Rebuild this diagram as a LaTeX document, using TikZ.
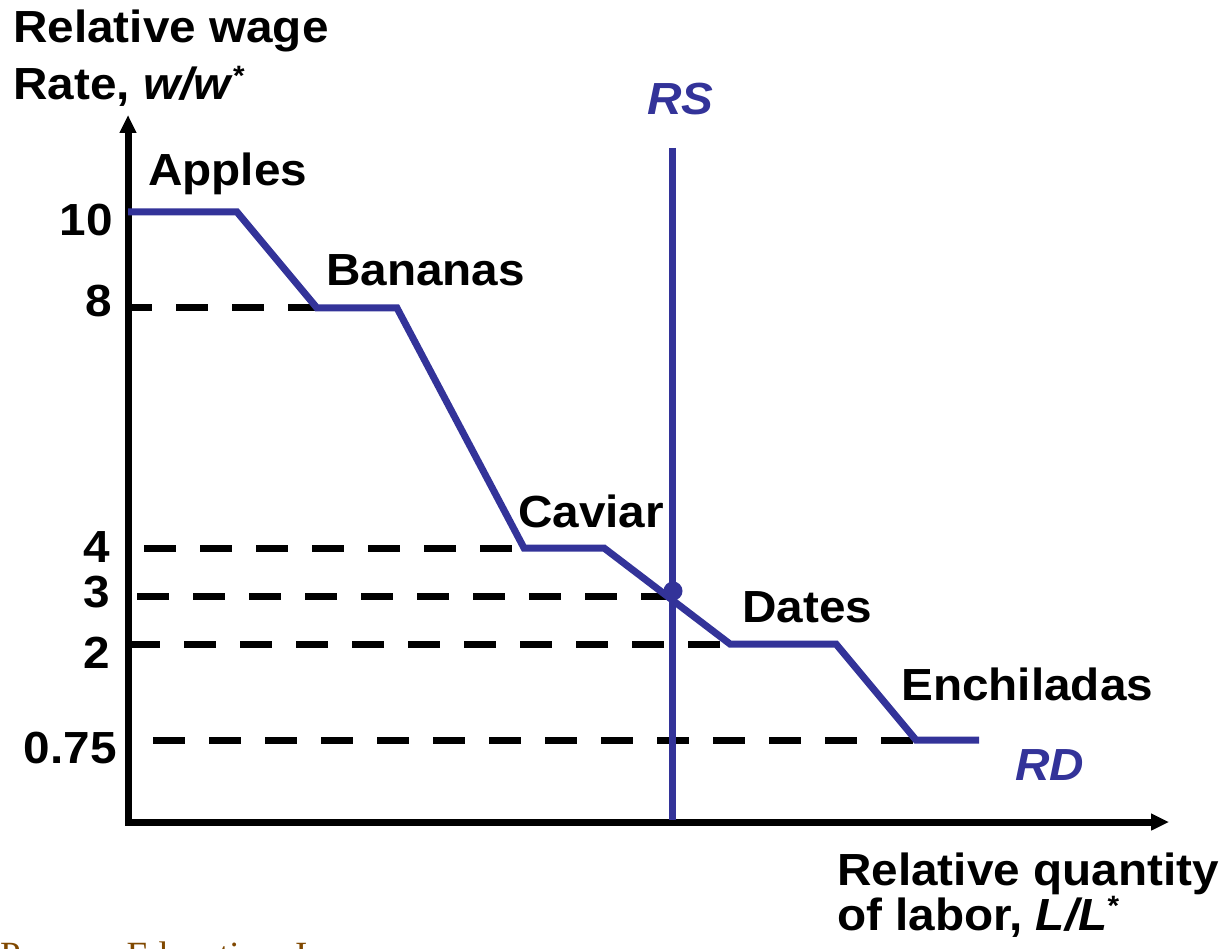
\documentclass[tikz,border=0pt]{standalone}
\usepackage{fontspec}
\usepackage{graphicx}
\setmainfont{Liberation Sans}
\newfontfamily\pearsonfont{Liberation Serif}
\usetikzlibrary{arrows.meta}
\definecolor{rdblue}{RGB}{51,51,153}
\definecolor{pbrown}{RGB}{128,72,0}
\newcommand{\hs}[1]{\scalebox{1.06}[1]{#1}}
\begin{document}
\begin{tikzpicture}[x=1pt,y=-1pt,
  lbl/.style={inner sep=0pt, anchor=base west, font=\fontsize{45}{52}\selectfont\bfseries},
  bluelbl/.style={lbl, text=rdblue, font=\fontsize{45}{52}\selectfont\bfseries\itshape},
  num/.style={inner sep=0pt, anchor=east, font=\fontsize{45}{52}\selectfont\bfseries},
  curve/.style={rdblue, line width=7pt, line join=miter},
  guide/.style={line width=7pt, dash pattern=on 32pt off 24pt},
  axisline/.style={line width=7pt, -{Triangle[length=18pt,width=16pt]}}]
\useasboundingbox (0,0) rectangle (1223,949);
\clip (0,0) rectangle (1223,949);

% axes
\coordinate (origin) at (125,822);
\coordinate (ytip) at (128,115);
\coordinate (xtip) at (1169,822);
\coordinate (ybase) at (128,825);
\draw[axisline] (ybase) -- (ytip);
\draw[axisline] (origin) -- (xtip);

% RD curve corners
\coordinate (a0) at (128,212);
\coordinate (a1) at (237,212);
\coordinate (b0) at (317,308);
\coordinate (b1) at (397,308);
\coordinate (c0) at (524,548);
\coordinate (c1) at (604,548);
\coordinate (d0) at (730,644);
\coordinate (d1) at (836,644);
\coordinate (e0) at (916,740);
\coordinate (e1) at (979,740);

% dashed guide lines
\coordinate (g8) at (128,308);
\coordinate (g4) at (144,548);
\coordinate (g3) at (137,596);
\coordinate (g3e) at (669,596);
\coordinate (g2) at (128,644);
\coordinate (g075) at (153,740);
\draw[guide, dash phase=8pt] (g8) -- (b0);
\draw[guide] (g4) -- (c0);
\draw[guide] (g3) -- (g3e);
\draw[guide] (g2) -- (d0);
\draw[guide] (g075) -- (e0);

% RS line
\coordinate (rstop) at (672,148);
\coordinate (rsbot) at (672,820);
\draw[rdblue, line width=7pt] (rstop) -- (rsbot);

% RD curve
\draw[curve] (a0) -- (a1) -- (b0) -- (b1) -- (c0) -- (c1) -- (d0) -- (d1) -- (e0) -- (e1);

% equilibrium dot
\fill[rdblue] (673,591) circle (9.5pt);

% axis titles
\node[lbl] (ytitle1) at (13,43) {\hs{Relative wage}};
\node[lbl] (ytitle2) at (13,100) {\hs{Rate, \textit{w/w}\raisebox{0.32em}{\fontsize{28}{30}\selectfont *}}};
\node[lbl] (xtitle1) at (837,885) {\hs{Relative quantity}};
\node[lbl] (xtitle2) at (837,930) {\hs{of labor, \textit{L/L}\raisebox{0.32em}{\fontsize{28}{30}\selectfont *}}};

% curve labels
\node[bluelbl] (rs) at (647,115) {\hs{RS}};
\node[bluelbl] (rd) at (1015,780) {\hs{RD}};
\node[lbl] (apples) at (148,186) {\hs{Apples}};
\node[lbl] (bananas) at (326,286) {\hs{Bananas}};
\node[lbl] (caviar) at (518,527) {\hs{Caviar}};
\node[lbl] (dates) at (742,622) {\hs{Dates}};
\node[lbl] (enchiladas) at (901,700) {\hs{Enchiladas}};

% tick values
\node[num] (n10) at (113,220) {\hs{10}};
\node[num] (n8) at (112,301) {\hs{8}};
\node[num] (n4) at (110,547) {\hs{4}};
\node[num] (n3) at (110,592) {\hs{3}};
\node[num] (n2) at (110,653) {\hs{2}};
\node[num] (n075) at (117,748) {\hs{0.75}};

% cut-off credit line
\node[inner sep=0pt, anchor=base west, text=pbrown, font=\fontsize{37}{40}\selectfont\pearsonfont] (credit) at (0,967) {Pearson Education, Inc.};
\end{tikzpicture}
\end{document}
